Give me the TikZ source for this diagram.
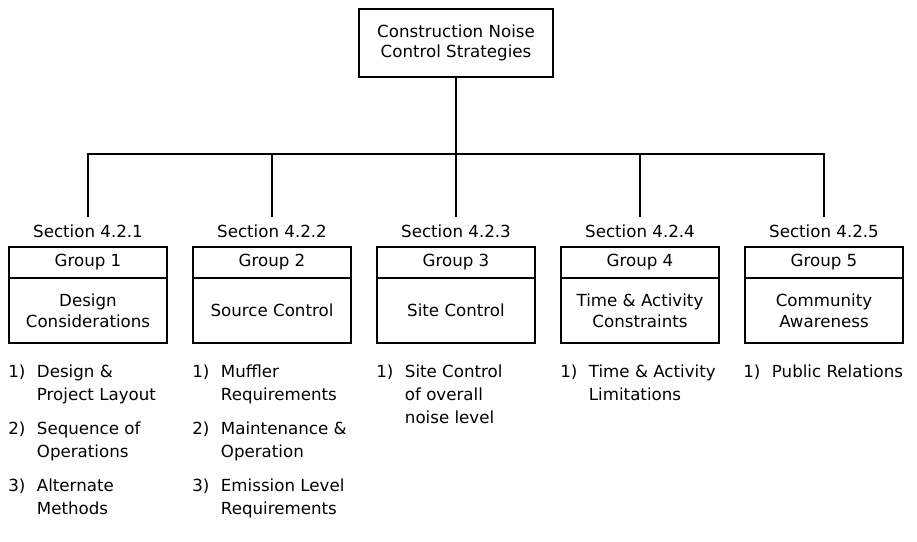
\documentclass[tikz,border=0pt]{standalone}
\usepackage{fontspec}
\setmainfont{DejaVu Sans}
\usetikzlibrary{positioning}
\newcommand{\entry}[2]{\makebox[21.5pt][l]{#1}\begin{tabular}[t]{@{}l@{}}#2\end{tabular}}

\begin{document}
\begin{tikzpicture}[x=0.75pt,y=-0.75pt,
  node distance=0pt,
  every node/.style={font=\fontsize{12.5}{16}\selectfont},
  head/.style={draw,line width=1.4pt,align=center,minimum width=146pt,
    minimum height=51pt,font=\fontsize{12.5}{15}\selectfont},
  sec/.style={inner xsep=0pt,inner ysep=6pt},
  grp/.style={draw,line width=1.4pt,minimum width=118.5pt,minimum height=23.25pt,inner sep=0pt},
  body/.style={draw,line width=1.4pt,align=center,minimum width=118.5pt,
    minimum height=48.75pt,inner sep=0pt},
  item/.style={anchor=north west,inner sep=0pt,font=\fontsize{12.5}{17.25}\selectfont},
  link/.style={line width=1.4pt}]
\useasboundingbox (0,0) rectangle (917,542);
\node[head] (top) at (456,43) {Construction Noise\\Control Strategies};
\coordinate (bus) at (456,154);
\node[grp] (grp1) at (88,262.5) {Group 1};
\node[grp] (grp2) at (272,262.5) {Group 2};
\node[grp] (grp3) at (456,262.5) {Group 3};
\node[grp] (grp4) at (640,262.5) {Group 4};
\node[grp] (grp5) at (824,262.5) {Group 5};
\node[sec,above=of grp1] (sec1) {Section 4.2.1};
\node[sec,above=of grp2] (sec2) {Section 4.2.2};
\node[sec,above=of grp3] (sec3) {Section 4.2.3};
\node[sec,above=of grp4] (sec4) {Section 4.2.4};
\node[sec,above=of grp5] (sec5) {Section 4.2.5};
\node[body,below=-1.4pt of grp1] (task1) {Design\\Considerations};
\node[body,below=-1.4pt of grp2] (task2) {Source Control};
\node[body,below=-1.4pt of grp3] (task3) {Site Control};
\node[body,below=-1.4pt of grp4] (task4) {Time \& Activity\\Constraints};
\node[body,below=-1.4pt of grp5] (task5) {Community\\Awareness};
\draw[link] (top) -- (top |- bus);
\draw[link] (sec1.north) |- (bus) -| (sec5.north);
\draw[link] (sec2.north) -- (sec2.north |- bus);
\draw[link] (sec3.north) -- (sec3.north |- bus);
\draw[link] (sec4.north) -- (sec4.north |- bus);
\node[item] (m1a) at (8,361) {\entry{1)}{Design \&\\Project Layout}};
\node[item] (m1b) at (8,418) {\entry{2)}{Sequence of\\Operations}};
\node[item] (m1c) at (8,475) {\entry{3)}{Alternate\\Methods}};
\node[item] (m2a) at (192,361) {\entry{1)}{Muffler\\Requirements}};
\node[item] (m2b) at (192,418) {\entry{2)}{Maintenance \&\\Operation}};
\node[item] (m2c) at (192,475) {\entry{3)}{Emission Level\\Requirements}};
\node[item] (m3a) at (376,361) {\entry{1)}{Site Control\\of overall\\noise level}};
\node[item] (m4a) at (560,361) {\entry{1)}{Time \& Activity\\Limitations}};
\node[item] (m5a) at (743,361) {\entry{1)}{Public Relations}};
\end{tikzpicture}
\end{document}
